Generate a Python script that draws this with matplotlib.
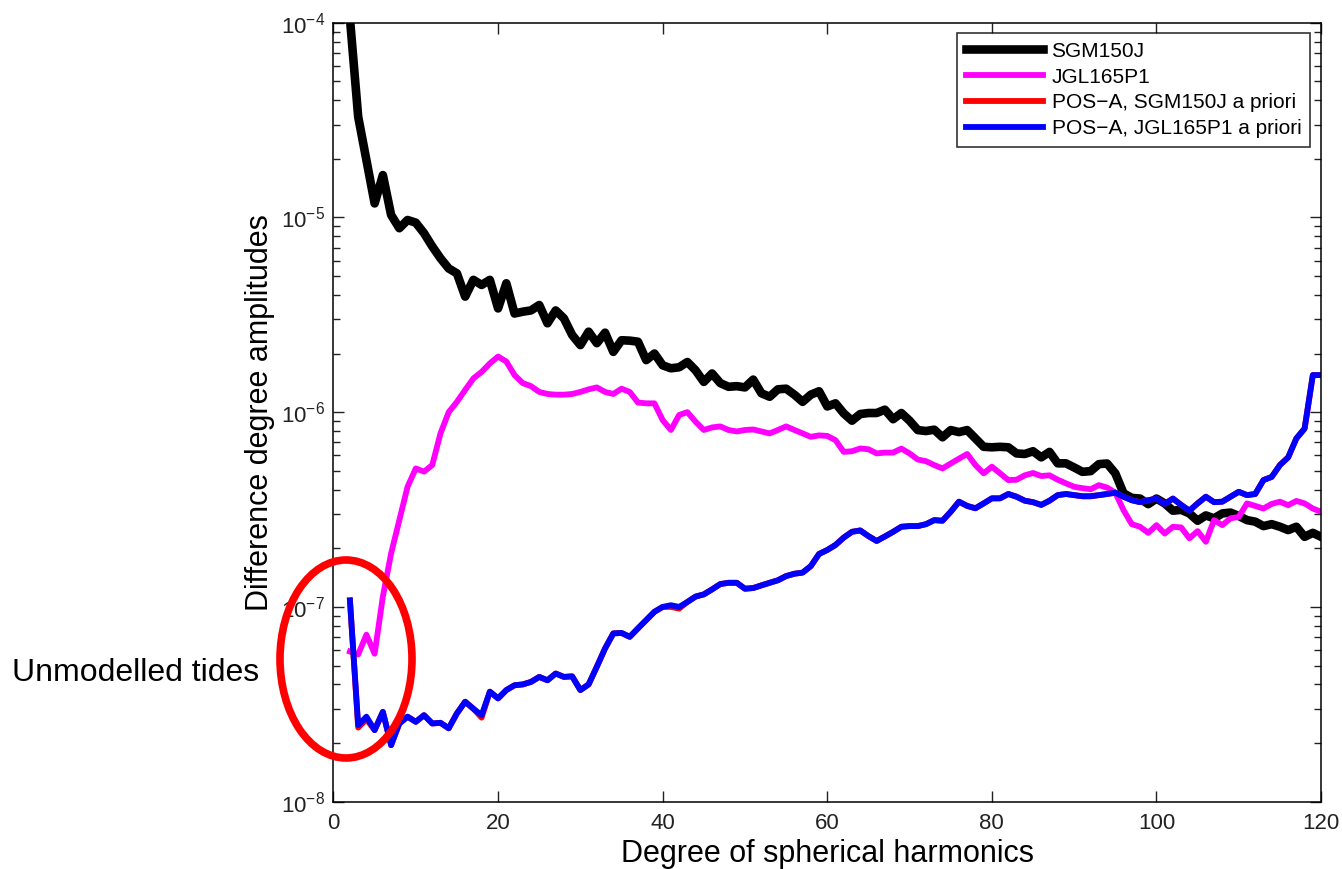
import numpy as np
import matplotlib
matplotlib.use('Agg')
import matplotlib.pyplot as plt
from matplotlib.patches import Ellipse
from matplotlib.ticker import LogLocator, NullFormatter, FixedLocator

plt.rcParams['font.family'] = ['Liberation Sans', 'DejaVu Sans']
plt.rcParams['mathtext.fontset'] = 'custom'
plt.rcParams['mathtext.rm'] = 'Liberation Sans'
plt.rcParams['mathtext.default'] = 'regular'

# spherical harmonic degree 2..120
degree = np.arange(2, 121)

sgm150j = [
    1.05e-4, 3.29e-5, 1.97e-5, 1.18e-5, 1.65e-5, 1.03e-5, 8.8e-6, 9.7e-6, 9.4e-6,
    8.3e-6, 7.1e-6, 6.17e-6, 5.47e-6, 5.16e-6, 3.92e-6, 4.78e-6, 4.5e-6, 4.78e-6, 3.41e-6,
    4.59e-6, 3.21e-6, 3.28e-6, 3.33e-6, 3.55e-6, 2.86e-6, 3.33e-6, 3.03e-6, 2.49e-6, 2.21e-6,
    2.59e-6, 2.26e-6, 2.56e-6, 2.04e-6, 2.34e-6, 2.33e-6, 2.30e-6, 1.85e-6, 2.0e-6, 1.74e-6,
    1.68e-6, 1.70e-6, 1.81e-6, 1.64e-6, 1.43e-6, 1.58e-6, 1.41e-6, 1.35e-6, 1.36e-6, 1.34e-6,
    1.47e-6, 1.25e-6, 1.20e-6, 1.31e-6, 1.32e-6, 1.23e-6, 1.13e-6, 1.23e-6, 1.28e-6, 1.07e-6,
    1.11e-6, 9.86e-7, 9.04e-7, 9.78e-7, 9.9e-7, 9.9e-7, 1.03e-6, 9.2e-7, 9.9e-7, 9.04e-7,
    8.09e-7, 8.0e-7, 8.13e-7, 7.43e-7, 8.09e-7, 7.9e-7, 8.09e-7, 7.33e-7, 6.64e-7, 6.6e-7,
    6.64e-7, 6.6e-7, 6.14e-7, 6.1e-7, 6.3e-7, 5.86e-7, 6.25e-7, 5.46e-7, 5.46e-7, 5.2e-7,
    4.94e-7, 4.98e-7, 5.41e-7, 5.45e-7, 4.85e-7, 3.83e-7, 3.63e-7, 3.6e-7, 3.37e-7, 3.6e-7,
    3.4e-7, 3.12e-7, 3.15e-7, 3.02e-7, 2.77e-7, 2.95e-7, 2.85e-7, 3.02e-7, 3.05e-7, 2.93e-7,
    2.79e-7, 2.74e-7, 2.6e-7, 2.66e-7, 2.58e-7, 2.48e-7, 2.58e-7, 2.29e-7, 2.4e-7, 2.29e-7,
]

jgl165p1 = [
    5.9e-8, 5.7e-8, 7.2e-8, 5.75e-8, 1.13e-7, 1.88e-7, 2.79e-7, 4.14e-7, 5.14e-7,
    4.95e-7, 5.35e-7, 7.78e-7, 1.0e-6, 1.13e-6, 1.3e-6, 1.49e-6, 1.61e-6, 1.78e-6, 1.93e-6,
    1.82e-6, 1.55e-6, 1.41e-6, 1.36e-6, 1.27e-6, 1.24e-6, 1.23e-6, 1.23e-6, 1.24e-6, 1.27e-6,
    1.31e-6, 1.34e-6, 1.27e-6, 1.24e-6, 1.32e-6, 1.27e-6, 1.12e-6, 1.11e-6, 1.11e-6, 9.1e-7,
    8.1e-7, 9.67e-7, 1.0e-6, 8.93e-7, 8.1e-7, 8.35e-7, 8.45e-7, 8.1e-7, 7.96e-7, 8.1e-7,
    8.15e-7, 7.96e-7, 7.78e-7, 8.1e-7, 8.45e-7, 8.1e-7, 7.78e-7, 7.47e-7, 7.6e-7, 7.55e-7,
    7.18e-7, 6.25e-7, 6.3e-7, 6.51e-7, 6.45e-7, 6.14e-7, 6.2e-7, 6.2e-7, 6.5e-7, 6.14e-7,
    5.71e-7, 5.6e-7, 5.35e-7, 5.14e-7, 5.45e-7, 5.77e-7, 6.1e-7, 5.35e-7, 4.85e-7, 5.25e-7,
    4.85e-7, 4.48e-7, 4.5e-7, 4.74e-7, 4.87e-7, 4.7e-7, 4.74e-7, 4.5e-7, 4.31e-7, 4.14e-7,
    4.07e-7, 4.02e-7, 4.22e-7, 4.1e-7, 3.86e-7, 3.14e-7, 2.66e-7, 2.58e-7, 2.4e-7, 2.63e-7,
    2.38e-7, 2.58e-7, 2.56e-7, 2.25e-7, 2.45e-7, 2.16e-7, 2.79e-7, 2.63e-7, 2.85e-7, 2.9e-7,
    3.4e-7, 3.3e-7, 3.2e-7, 3.38e-7, 3.47e-7, 3.33e-7, 3.5e-7, 3.4e-7, 3.2e-7, 3.08e-7,
]

posa_sgm = [
    1.08e-7, 2.4e-8, 2.65e-8, 2.33e-8, 2.89e-8, 1.95e-8, 2.52e-8, 2.73e-8, 2.57e-8,
    2.78e-8, 2.52e-8, 2.54e-8, 2.38e-8, 2.84e-8, 3.26e-8, 3.0e-8, 2.7e-8, 3.67e-8, 3.39e-8,
    3.74e-8, 3.96e-8, 4.0e-8, 4.12e-8, 4.37e-8, 4.2e-8, 4.55e-8, 4.37e-8, 4.4e-8, 3.74e-8,
    4.0e-8, 4.93e-8, 6.12e-8, 7.31e-8, 7.35e-8, 7.02e-8, 7.76e-8, 8.56e-8, 9.44e-8, 1.0e-7,
    1.0e-7, 9.8e-8, 1.06e-7, 1.13e-7, 1.16e-7, 1.23e-7, 1.31e-7, 1.33e-7, 1.33e-7, 1.24e-7,
    1.25e-7, 1.29e-7, 1.33e-7, 1.37e-7, 1.44e-7, 1.48e-7, 1.5e-7, 1.62e-7, 1.87e-7, 1.96e-7,
    2.08e-7, 2.27e-7, 2.43e-7, 2.47e-7, 2.31e-7, 2.18e-7, 2.3e-7, 2.43e-7, 2.58e-7, 2.6e-7,
    2.6e-7, 2.66e-7, 2.79e-7, 2.77e-7, 3.08e-7, 3.47e-7, 3.3e-7, 3.21e-7, 3.4e-7, 3.61e-7,
    3.61e-7, 3.8e-7, 3.68e-7, 3.51e-7, 3.45e-7, 3.34e-7, 3.51e-7, 3.75e-7, 3.8e-7, 3.75e-7,
    3.7e-7, 3.7e-7, 3.75e-7, 3.8e-7, 3.86e-7, 3.68e-7, 3.53e-7, 3.45e-7, 3.53e-7, 3.6e-7,
    3.38e-7, 3.6e-7, 3.34e-7, 3.12e-7, 3.4e-7, 3.68e-7, 3.45e-7, 3.47e-7, 3.68e-7, 3.9e-7,
    3.75e-7, 3.8e-7, 4.48e-7, 4.65e-7, 5.35e-7, 5.86e-7, 7.33e-7, 8.24e-7, 1.55e-6, 1.55e-6,
]

posa_jgl = [
    1.08e-7, 2.47e-8, 2.73e-8, 2.33e-8, 2.89e-8, 1.95e-8, 2.52e-8, 2.73e-8, 2.57e-8,
    2.78e-8, 2.52e-8, 2.54e-8, 2.38e-8, 2.84e-8, 3.26e-8, 3.0e-8, 2.78e-8, 3.67e-8, 3.39e-8,
    3.74e-8, 3.96e-8, 4.0e-8, 4.12e-8, 4.37e-8, 4.2e-8, 4.55e-8, 4.37e-8, 4.4e-8, 3.74e-8,
    4.0e-8, 4.93e-8, 6.12e-8, 7.31e-8, 7.35e-8, 7.02e-8, 7.76e-8, 8.56e-8, 9.44e-8, 1.0e-7,
    1.02e-7, 1.0e-7, 1.06e-7, 1.13e-7, 1.16e-7, 1.23e-7, 1.31e-7, 1.33e-7, 1.33e-7, 1.24e-7,
    1.25e-7, 1.29e-7, 1.33e-7, 1.37e-7, 1.44e-7, 1.48e-7, 1.5e-7, 1.62e-7, 1.87e-7, 1.96e-7,
    2.08e-7, 2.27e-7, 2.43e-7, 2.47e-7, 2.31e-7, 2.18e-7, 2.3e-7, 2.43e-7, 2.58e-7, 2.6e-7,
    2.6e-7, 2.66e-7, 2.79e-7, 2.77e-7, 3.08e-7, 3.47e-7, 3.3e-7, 3.21e-7, 3.4e-7, 3.61e-7,
    3.61e-7, 3.8e-7, 3.68e-7, 3.51e-7, 3.45e-7, 3.34e-7, 3.51e-7, 3.75e-7, 3.8e-7, 3.75e-7,
    3.7e-7, 3.7e-7, 3.75e-7, 3.8e-7, 3.86e-7, 3.68e-7, 3.53e-7, 3.45e-7, 3.53e-7, 3.6e-7,
    3.38e-7, 3.6e-7, 3.34e-7, 3.12e-7, 3.4e-7, 3.68e-7, 3.45e-7, 3.47e-7, 3.68e-7, 3.9e-7,
    3.75e-7, 3.8e-7, 4.48e-7, 4.65e-7, 5.35e-7, 5.86e-7, 7.33e-7, 8.24e-7, 1.55e-6, 1.55e-6,
]

labels = ['SGM150J', 'JGL165P1', 'POS\u2212A, SGM150J a priori', 'POS\u2212A, JGL165P1 a priori']
x_ticks = [0, 20, 40, 60, 80, 100, 120]

fig = plt.figure(figsize=(13.42, 8.69), dpi=100)
ax = fig.add_axes([0.2485, 0.0775, 0.7359, 0.8964])

ax.plot(degree, sgm150j, color='black', lw=6.2, label=labels[0])
ax.plot(degree, jgl165p1, color='#ff00ff', lw=4.2, label=labels[1])
ax.plot(degree, posa_sgm, color='#ff0000', lw=4.2, label=labels[2])
ax.plot(degree, posa_jgl, color='#0000ff', lw=4.2, label=labels[3])

ax.set_yscale('log')
ax.set_xlim(0, 120)
ax.set_ylim(1e-8, 1e-4)
ax.xaxis.set_major_locator(FixedLocator(x_ticks))
ax.yaxis.set_major_locator(LogLocator(base=10, numticks=10))
ax.yaxis.set_minor_locator(LogLocator(base=10, subs=np.arange(2, 10), numticks=10))
ax.yaxis.set_minor_formatter(NullFormatter())

ax.tick_params(which='both', direction='in', top=True, right=True, colors='#222222',
               labelsize=16, width=1)
ax.tick_params(which='major', length=8)
ax.tick_params(which='minor', length=5)
ax.tick_params(axis='x', pad=8)
ax.tick_params(axis='y', pad=6)
for s in ax.spines.values():
    s.set_linewidth(1.1)

ax.set_xlabel('Degree of spherical harmonics', fontsize=22, labelpad=4)
ax.set_ylabel('Difference degree amplitudes', fontsize=22, labelpad=4)

leg = ax.legend(loc='upper right', bbox_to_anchor=(1310 / 1342, 1 - 33 / 869),
                bbox_transform=fig.transFigure,
                fontsize=15, frameon=True, fancybox=False, edgecolor='black', borderaxespad=0,
                handlelength=3.7, handletextpad=0.4, labelspacing=0.33, borderpad=0.42)
leg.get_frame().set_linewidth(1.2)

# annotation of the low-degree region
fig.add_artist(Ellipse((346 / 1342, 1 - 659 / 869), 132 / 1342, 198 / 869,
                       transform=fig.transFigure, fill=False, edgecolor='#ff0000', lw=5.5))
fig.text(12 / 1342, 1 - 673 / 869, 'Unmodelled tides', fontsize=23, va='center', ha='left')

fig.savefig('out.png', dpi=100)
